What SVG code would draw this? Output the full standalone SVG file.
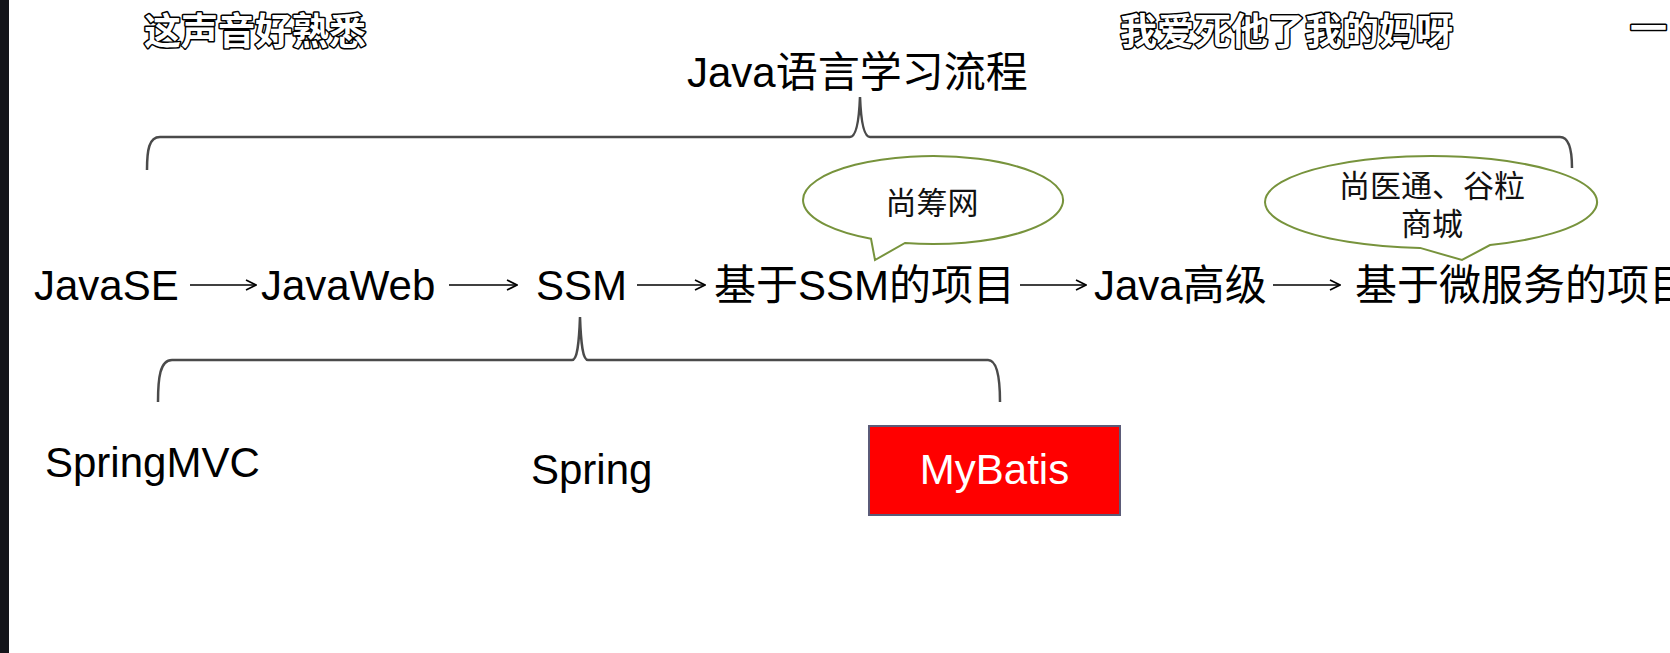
<svg xmlns="http://www.w3.org/2000/svg" width="1670" height="653" viewBox="0 0 1670 653">
<defs>
<style>
.t{font-family:"Liberation Sans","Noto Sans CJK SC",sans-serif;font-size:42px;fill:#000}
.s{font-family:"Noto Sans CJK SC",sans-serif;font-size:31px;fill:#111;text-anchor:middle}
.sub{font-family:"Noto Sans CJK SC",sans-serif;font-weight:bold;font-size:37px;fill:#fff;stroke:#000;stroke-width:3;paint-order:stroke;stroke-linejoin:round}
.br{fill:none;stroke:#4a4a4a;stroke-width:2.5}
.ar{fill:none;stroke:#000;stroke-width:1.6}
.bub{fill:#fff;stroke:#77933c;stroke-width:2}
</style>
<marker id="ah" viewBox="0 0 12 12" refX="11" refY="6" markerWidth="12" markerHeight="12" markerUnits="userSpaceOnUse" orient="auto">
<path d="M1 1 L11 6 L1 11" fill="none" stroke="#000" stroke-width="1.6"/>
</marker>
</defs>
<rect width="1670" height="653" fill="#fff"/>
<rect x="0" y="0" width="9" height="653" fill="#14151a"/>

<g id="subtitles">
<text class="sub" x="144" y="45">这声音好熟悉</text>
<text class="sub" x="1120" y="45">我爱死他了我的妈呀</text>
<text class="sub" x="1630" y="42">一</text>
</g>

<g id="title"><text class="t" x="687" y="87">Java语言学习流程</text></g>

<g id="braces">
<path class="br" d="M147 170 C147 150 149 137 160 137 L850 137 C856 137 859 122 860 97 C861 122 864 137 870 137 L1560 137 C1569 137 1572 150 1572 168"/>
<path class="br" d="M158 402 C158 378 160 360 172 360 L572 360 C577 360 579 345 580 317 C581 345 583 360 588 360 L988 360 C997 360 1000 378 1000 402"/>
</g>

<g id="bubble1">
<path class="bub" d="M871 238.7 L875 260 L905 243 A130 44 0 1 0 871 238.7 Z"/>
<text class="s" x="932" y="214">尚筹网</text>
</g>
<g id="bubble2">
<path class="bub" d="M1420 247.9 L1462 260 L1490 245 A166 46 0 1 0 1420 247.9 Z"/>
<text class="s" x="1432" y="197">尚医通、谷粒</text>
<text class="s" x="1432" y="235">商城</text>
</g>

<g id="n-javase"><text class="t" x="34" y="300">JavaSE</text></g>
<g id="n-javaweb"><text class="t" x="261" y="300">JavaWeb</text></g>
<g id="n-ssm"><text class="t" x="536" y="300">SSM</text></g>
<g id="n-ssmproj"><text class="t" x="714" y="300">基于SSM的项目</text></g>
<g id="n-javaadv"><text class="t" x="1094" y="300">Java高级</text></g>
<g id="n-micro"><text class="t" x="1355" y="300">基于微服务的项目</text></g>

<g id="n-springmvc"><text class="t" x="45" y="477">SpringMVC</text></g>
<g id="n-spring"><text class="t" x="531" y="484">Spring</text></g>
<g id="n-mybatis">
<rect x="869" y="426" width="251" height="89" fill="#ff0000" stroke="#5b5b78" stroke-width="2"/>
<text class="t" x="994.5" y="484" text-anchor="middle" style="fill:#fff">MyBatis</text>
</g>

<g id="connectors">
<line class="ar" x1="190" y1="285" x2="256" y2="285" marker-end="url(#ah)"/>
<line class="ar" x1="449" y1="285" x2="517" y2="285" marker-end="url(#ah)"/>
<line class="ar" x1="637" y1="285" x2="705" y2="285" marker-end="url(#ah)"/>
<line class="ar" x1="1020" y1="285" x2="1086" y2="285" marker-end="url(#ah)"/>
<line class="ar" x1="1273" y1="285" x2="1340" y2="285" marker-end="url(#ah)"/>
</g>
</svg>
